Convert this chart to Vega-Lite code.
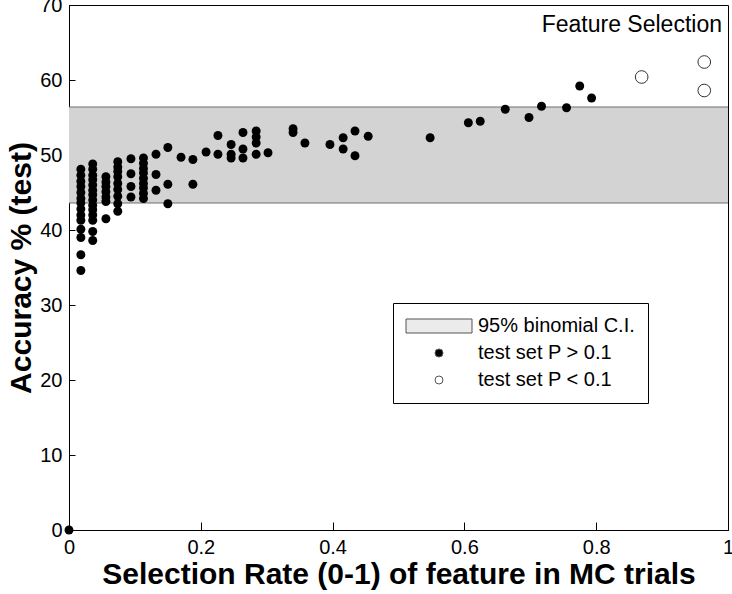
{
  "$schema": "https://vega.github.io/schema/vega-lite/v6.json",
  "width": 659,
  "height": 525,
  "autosize": {"type": "none"},
  "padding": {"left": 69, "top": 5, "right": 4, "bottom": 64},
  "config": {
    "font": "Liberation Sans",
    "view": {"stroke": "#000", "strokeWidth": 1},
    "axis": {
      "grid": false,
      "domainColor": "#000",
      "tickColor": "#000",
      "labelColor": "#000",
      "titleColor": "#000",
      "labelFont": "Liberation Sans",
      "titleFont": "Liberation Sans",
      "labelFontSize": 20,
      "titleFontSize": 30,
      "titleFontWeight": "bold",
      "labelFlush": false
    }
  },
  "datasets": {
    "filled": [
      {"rate": 0.0, "acc": 0.0, "series": "test set P > 0.1"},
      {"rate": 0.018, "acc": 48.1, "series": "test set P > 0.1"},
      {"rate": 0.018, "acc": 47.3, "series": "test set P > 0.1"},
      {"rate": 0.018, "acc": 46.5, "series": "test set P > 0.1"},
      {"rate": 0.018, "acc": 45.8, "series": "test set P > 0.1"},
      {"rate": 0.018, "acc": 45.0, "series": "test set P > 0.1"},
      {"rate": 0.018, "acc": 44.2, "series": "test set P > 0.1"},
      {"rate": 0.018, "acc": 43.6, "series": "test set P > 0.1"},
      {"rate": 0.018, "acc": 42.8, "series": "test set P > 0.1"},
      {"rate": 0.018, "acc": 42.0, "series": "test set P > 0.1"},
      {"rate": 0.018, "acc": 41.3, "series": "test set P > 0.1"},
      {"rate": 0.018, "acc": 40.1, "series": "test set P > 0.1"},
      {"rate": 0.018, "acc": 39.0, "series": "test set P > 0.1"},
      {"rate": 0.018, "acc": 36.7, "series": "test set P > 0.1"},
      {"rate": 0.018, "acc": 34.6, "series": "test set P > 0.1"},
      {"rate": 0.036, "acc": 48.8, "series": "test set P > 0.1"},
      {"rate": 0.036, "acc": 48.1, "series": "test set P > 0.1"},
      {"rate": 0.036, "acc": 47.3, "series": "test set P > 0.1"},
      {"rate": 0.036, "acc": 46.7, "series": "test set P > 0.1"},
      {"rate": 0.036, "acc": 46.0, "series": "test set P > 0.1"},
      {"rate": 0.036, "acc": 45.3, "series": "test set P > 0.1"},
      {"rate": 0.036, "acc": 44.7, "series": "test set P > 0.1"},
      {"rate": 0.036, "acc": 44.0, "series": "test set P > 0.1"},
      {"rate": 0.036, "acc": 43.3, "series": "test set P > 0.1"},
      {"rate": 0.036, "acc": 42.7, "series": "test set P > 0.1"},
      {"rate": 0.036, "acc": 42.0, "series": "test set P > 0.1"},
      {"rate": 0.036, "acc": 41.3, "series": "test set P > 0.1"},
      {"rate": 0.036, "acc": 39.8, "series": "test set P > 0.1"},
      {"rate": 0.036, "acc": 38.6, "series": "test set P > 0.1"},
      {"rate": 0.056, "acc": 47.1, "series": "test set P > 0.1"},
      {"rate": 0.056, "acc": 46.4, "series": "test set P > 0.1"},
      {"rate": 0.056, "acc": 45.8, "series": "test set P > 0.1"},
      {"rate": 0.056, "acc": 45.1, "series": "test set P > 0.1"},
      {"rate": 0.056, "acc": 44.4, "series": "test set P > 0.1"},
      {"rate": 0.056, "acc": 43.8, "series": "test set P > 0.1"},
      {"rate": 0.056, "acc": 41.5, "series": "test set P > 0.1"},
      {"rate": 0.074, "acc": 49.1, "series": "test set P > 0.1"},
      {"rate": 0.074, "acc": 48.4, "series": "test set P > 0.1"},
      {"rate": 0.074, "acc": 47.8, "series": "test set P > 0.1"},
      {"rate": 0.074, "acc": 47.1, "series": "test set P > 0.1"},
      {"rate": 0.074, "acc": 46.2, "series": "test set P > 0.1"},
      {"rate": 0.074, "acc": 45.4, "series": "test set P > 0.1"},
      {"rate": 0.074, "acc": 44.5, "series": "test set P > 0.1"},
      {"rate": 0.074, "acc": 43.5, "series": "test set P > 0.1"},
      {"rate": 0.074, "acc": 42.5, "series": "test set P > 0.1"},
      {"rate": 0.094, "acc": 49.5, "series": "test set P > 0.1"},
      {"rate": 0.094, "acc": 47.5, "series": "test set P > 0.1"},
      {"rate": 0.094, "acc": 45.8, "series": "test set P > 0.1"},
      {"rate": 0.094, "acc": 44.4, "series": "test set P > 0.1"},
      {"rate": 0.113, "acc": 49.6, "series": "test set P > 0.1"},
      {"rate": 0.113, "acc": 48.9, "series": "test set P > 0.1"},
      {"rate": 0.113, "acc": 48.2, "series": "test set P > 0.1"},
      {"rate": 0.113, "acc": 47.6, "series": "test set P > 0.1"},
      {"rate": 0.113, "acc": 46.9, "series": "test set P > 0.1"},
      {"rate": 0.113, "acc": 46.2, "series": "test set P > 0.1"},
      {"rate": 0.113, "acc": 45.6, "series": "test set P > 0.1"},
      {"rate": 0.113, "acc": 44.9, "series": "test set P > 0.1"},
      {"rate": 0.113, "acc": 44.2, "series": "test set P > 0.1"},
      {"rate": 0.132, "acc": 50.1, "series": "test set P > 0.1"},
      {"rate": 0.132, "acc": 47.4, "series": "test set P > 0.1"},
      {"rate": 0.132, "acc": 45.3, "series": "test set P > 0.1"},
      {"rate": 0.150, "acc": 51.0, "series": "test set P > 0.1"},
      {"rate": 0.150, "acc": 46.1, "series": "test set P > 0.1"},
      {"rate": 0.150, "acc": 43.5, "series": "test set P > 0.1"},
      {"rate": 0.170, "acc": 49.7, "series": "test set P > 0.1"},
      {"rate": 0.188, "acc": 49.4, "series": "test set P > 0.1"},
      {"rate": 0.188, "acc": 46.1, "series": "test set P > 0.1"},
      {"rate": 0.208, "acc": 50.4, "series": "test set P > 0.1"},
      {"rate": 0.226, "acc": 52.6, "series": "test set P > 0.1"},
      {"rate": 0.226, "acc": 50.1, "series": "test set P > 0.1"},
      {"rate": 0.246, "acc": 51.4, "series": "test set P > 0.1"},
      {"rate": 0.246, "acc": 50.1, "series": "test set P > 0.1"},
      {"rate": 0.246, "acc": 49.6, "series": "test set P > 0.1"},
      {"rate": 0.264, "acc": 53.0, "series": "test set P > 0.1"},
      {"rate": 0.264, "acc": 50.8, "series": "test set P > 0.1"},
      {"rate": 0.264, "acc": 49.6, "series": "test set P > 0.1"},
      {"rate": 0.284, "acc": 53.2, "series": "test set P > 0.1"},
      {"rate": 0.284, "acc": 52.4, "series": "test set P > 0.1"},
      {"rate": 0.284, "acc": 51.6, "series": "test set P > 0.1"},
      {"rate": 0.284, "acc": 50.1, "series": "test set P > 0.1"},
      {"rate": 0.302, "acc": 50.3, "series": "test set P > 0.1"},
      {"rate": 0.340, "acc": 53.5, "series": "test set P > 0.1"},
      {"rate": 0.340, "acc": 53.0, "series": "test set P > 0.1"},
      {"rate": 0.358, "acc": 51.6, "series": "test set P > 0.1"},
      {"rate": 0.396, "acc": 51.4, "series": "test set P > 0.1"},
      {"rate": 0.416, "acc": 52.3, "series": "test set P > 0.1"},
      {"rate": 0.416, "acc": 50.8, "series": "test set P > 0.1"},
      {"rate": 0.434, "acc": 53.2, "series": "test set P > 0.1"},
      {"rate": 0.434, "acc": 49.9, "series": "test set P > 0.1"},
      {"rate": 0.454, "acc": 52.5, "series": "test set P > 0.1"},
      {"rate": 0.548, "acc": 52.3, "series": "test set P > 0.1"},
      {"rate": 0.606, "acc": 54.3, "series": "test set P > 0.1"},
      {"rate": 0.624, "acc": 54.5, "series": "test set P > 0.1"},
      {"rate": 0.662, "acc": 56.1, "series": "test set P > 0.1"},
      {"rate": 0.698, "acc": 55.0, "series": "test set P > 0.1"},
      {"rate": 0.717, "acc": 56.5, "series": "test set P > 0.1"},
      {"rate": 0.755, "acc": 56.3, "series": "test set P > 0.1"},
      {"rate": 0.775, "acc": 59.2, "series": "test set P > 0.1"},
      {"rate": 0.793, "acc": 57.6, "series": "test set P > 0.1"}
    ],
    "open": [
      {"rate": 0.869, "acc": 60.4, "series": "test set P < 0.1"},
      {"rate": 0.964, "acc": 62.4, "series": "test set P < 0.1"},
      {"rate": 0.964, "acc": 58.6, "series": "test set P < 0.1"}
    ],
    "band": [{"lo": 43.6, "hi": 56.4}],
    "edges": [{"edge": 43.6}, {"edge": 56.4}]
  },
  "layer": [
    {
      "data": {"name": "band"},
      "mark": {"type": "rect", "fill": "#d3d3d3"},
      "encoding": {
        "x": {"datum": 0, "type": "quantitative", "scale": {"domain": [0, 1], "nice": false},
          "axis": {"values": [0, 0.2, 0.4, 0.6, 0.8, 1], "format": "~g", "tickSize": -8, "labelPadding": 15, "titlePadding": 2,
            "title": "Selection Rate (0-1) of feature in MC trials"}},
        "x2": {"datum": 1},
        "y": {"field": "lo", "type": "quantitative", "scale": {"domain": [0, 70], "nice": false},
          "axis": {"values": [0, 10, 20, 30, 40, 50, 60, 70], "tickSize": -6, "labelPadding": 13, "titlePadding": 3,
            "title": "Accuracy % (test)"}},
        "y2": {"field": "hi"}
      }
    },
    {
      "data": {"name": "edges"},
      "mark": {"type": "rule", "color": "#707070", "strokeWidth": 1.2},
      "encoding": {
        "y": {"field": "edge", "type": "quantitative", "scale": {"domain": [0, 70], "nice": false}}
      }
    },
    {
      "data": {"name": "filled"},
      "mark": {"type": "point", "filled": true, "opacity": 1, "size": 80},
      "encoding": {
        "x": {"field": "rate", "type": "quantitative", "scale": {"domain": [0, 1], "nice": false}},
        "y": {"field": "acc", "type": "quantitative", "scale": {"domain": [0, 70], "nice": false}},
        "fill": {"field": "series", "type": "nominal",
          "scale": {"domain": ["95% binomial C.I.", "test set P > 0.1", "test set P < 0.1"], "range": ["#ebebeb", "#000000", "#ffffff"]},
          "legend": {"title": null, "orient": "none", "legendX": 324, "legendY": 298, "fillColor": "#ffffff", "strokeColor": "#000000",
            "padding": 13, "rowPadding": 7, "symbolOffset": 23, "labelOffset": 29, "labelFontSize": 20, "labelFont": "Liberation Sans",
            "labelColor": "#000000", "symbolSize": 64, "symbolStrokeWidth": 1, "symbolStrokeColor": "#555555", "symbolOpacity": 1,
            "encode": {"symbols": {"update": {"stroke": {"value": "#555555"}, "strokeWidth": {"value": 1}}}}}},
        "shape": {"field": "series", "type": "nominal",
          "scale": {"domain": ["95% binomial C.I.", "test set P > 0.1", "test set P < 0.1"], "range": ["M-8.25,-1.75H8.25V1.75H-8.25Z", "circle", "circle"]},
          "legend": {"title": null, "orient": "none", "legendX": 324, "legendY": 298}}
      }
    },
    {
      "data": {"name": "open"},
      "mark": {"type": "point", "filled": true, "opacity": 1, "size": 160, "stroke": "#333333", "strokeWidth": 1},
      "encoding": {
        "x": {"field": "rate", "type": "quantitative", "scale": {"domain": [0, 1], "nice": false}},
        "y": {"field": "acc", "type": "quantitative", "scale": {"domain": [0, 70], "nice": false}},
        "fill": {"field": "series", "type": "nominal",
          "scale": {"domain": ["95% binomial C.I.", "test set P > 0.1", "test set P < 0.1"], "range": ["#ebebeb", "#000000", "#ffffff"]}},
        "shape": {"field": "series", "type": "nominal",
          "scale": {"domain": ["95% binomial C.I.", "test set P > 0.1", "test set P < 0.1"], "range": ["M-8.25,-1.75H8.25V1.75H-8.25Z", "circle", "circle"]}}
      }
    },
    {
      "data": {"values": [{"label": "Feature Selection"}]},
      "mark": {"type": "text", "align": "right", "baseline": "alphabetic", "dx": -6, "dy": 27, "fontSize": 23, "font": "Liberation Sans", "color": "#000"},
      "encoding": {
        "x": {"datum": 1, "type": "quantitative", "scale": {"domain": [0, 1], "nice": false}},
        "y": {"datum": 70, "type": "quantitative", "scale": {"domain": [0, 70], "nice": false}},
        "text": {"field": "label"}
      }
    }
  ]
}
